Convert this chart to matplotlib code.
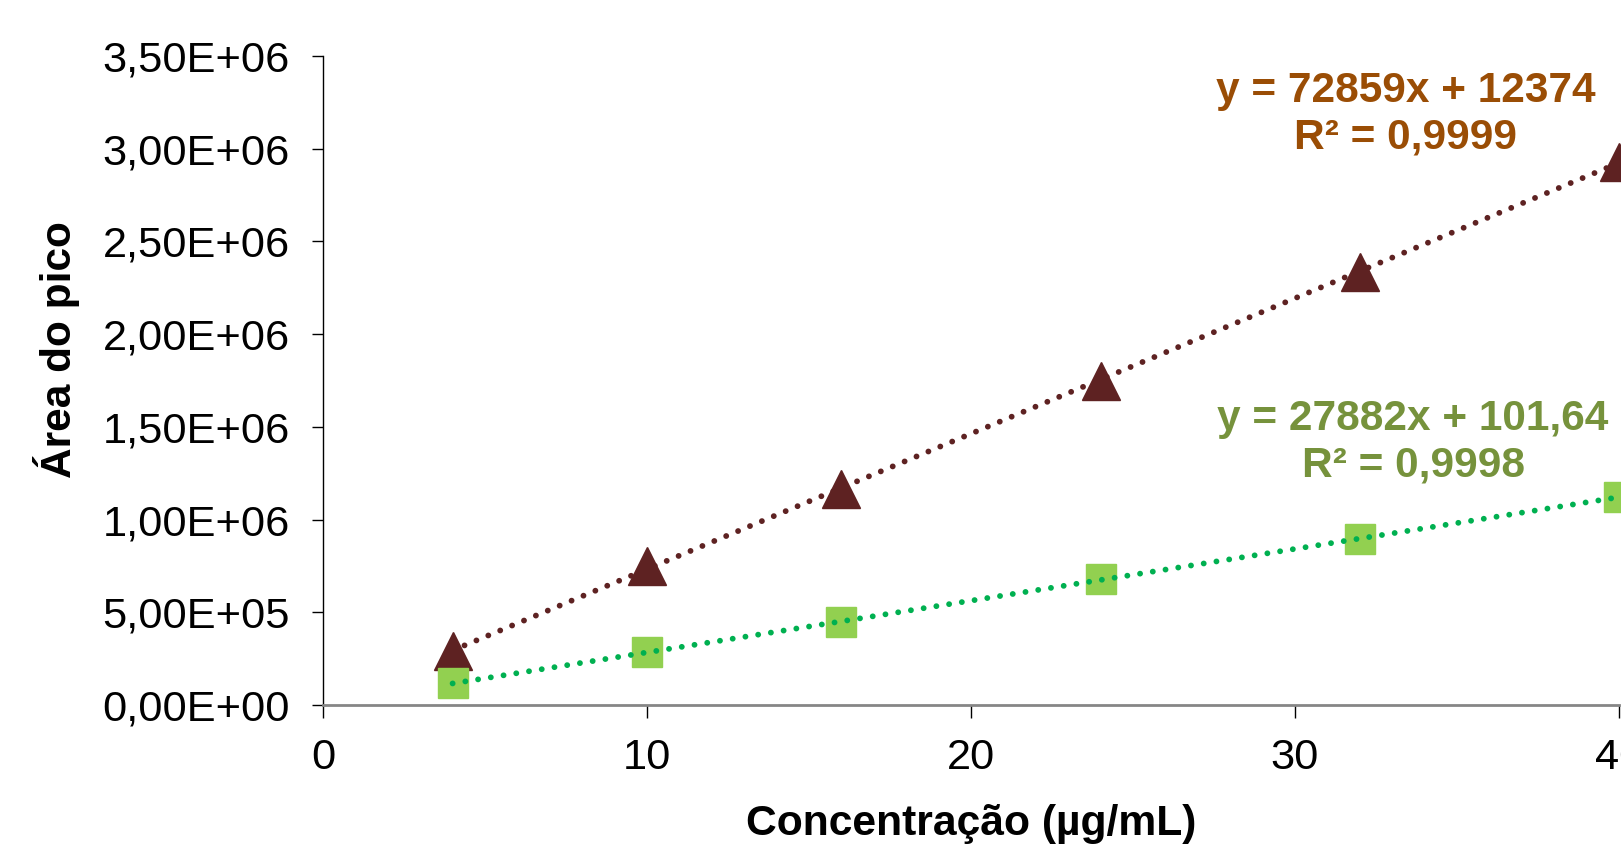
import numpy as np
import matplotlib
matplotlib.use("Agg")
import matplotlib.pyplot as plt
from matplotlib.ticker import FuncFormatter

plt.rcParams['font.family'] = ['Liberation Sans', 'DejaVu Sans']

# Data
conc = [4, 10, 16, 24, 32, 40]
area_tri = [0.29e6, 0.747e6, 1.165e6, 1.75e6, 2.335e6, 2.93e6]
area_sq = [0.117e6, 0.284e6, 0.446e6, 0.68e6, 0.897e6, 1.12e6]

eq_tri = "y = 72859x + 12374\nR² = 0,9999"
eq_sq = "y = 27882x + 101,64\nR² = 0,9998"

xlabel = "Concentração (µg/mL)"
ylabel = "Área do pico"

c_tri = "#5E2222"
c_sq = "#92D050"
c_tri_line = "#5E2222"
c_sq_line = "#00B050"
c_tri_txt = "#9A4D05"
c_sq_txt = "#76923C"

W, H = 1621, 849
fig = plt.figure(figsize=(W / 100, H / 100), dpi=100)
left, right, top, bottom = 323, 1619, 56, 705
ax = fig.add_axes([left / W, 1 - bottom / H, (right - left) / W, (bottom - top) / H])

x = np.array(conc, dtype=float)
for yvals, col in ((area_tri, c_tri_line), (area_sq, c_sq_line)):
    m, b = np.polyfit(x, np.array(yvals), 1)
    xs = np.array([x.min(), x.max()])
    ax.plot(xs, m * xs + b, color=col, lw=4.2, linestyle=(0, (0.01, 2.2)),
            dash_capstyle='round', zorder=3)

ax.plot(conc, area_tri, linestyle='none', marker='^', markersize=27,
        color=c_tri, markeredgecolor=c_tri, zorder=2)
ax.plot(conc, area_sq, linestyle='none', marker='s', markersize=21,
        color=c_sq, markeredgecolor=c_sq, zorder=2)

ax.set_xlim(0, 40)
ax.set_ylim(0, 3.5e6)
ax.set_xticks([0, 10, 20, 30, 40])
ax.set_yticks(np.arange(0, 3.51e6, 0.5e6))


def fmt(v, pos):
    if v == 0:
        return "0,00E+00"
    e = int(np.floor(np.log10(abs(v))))
    mant = v / 10 ** e
    return f"{mant:.2f}".replace('.', ',') + f"E+{e:02d}"


ax.yaxis.set_major_formatter(FuncFormatter(fmt))

for s in ('top', 'right'):
    ax.spines[s].set_visible(False)
ax.spines['left'].set_color('black')
ax.spines['left'].set_linewidth(1.0)
ax.spines['bottom'].set_color('#868686')
ax.spines['bottom'].set_linewidth(2.0)

ax.tick_params(axis='y', direction='out', length=8, width=1.0, color='black',
               labelsize=31.2, pad=16)
ax.tick_params(axis='x', direction='out', length=9, width=1.0, color='black',
               labelsize=31.2, pad=15)

ax.set_xlabel(xlabel, fontsize=30.7, fontweight='bold', va='center')
ax.xaxis.set_label_coords(0.5, (705 - 824) / 649)
ax.set_ylabel(ylabel, fontsize=30.5, fontweight='bold', va='center')
ax.yaxis.set_label_coords((57 - 323) / 1296, (705 - 350) / 649)

fig.text(1406 / W, 1 - 114 / H, eq_tri, ha='center', va='center', fontsize=30.5,
         fontweight='bold', color=c_tri_txt, linespacing=1.2)
fig.text(1413 / W, 1 - 442 / H, eq_sq, ha='center', va='center', fontsize=30.5,
         fontweight='bold', color=c_sq_txt, linespacing=1.2)

for ln in ax.lines:
    ln.set_clip_on(False)

fig.savefig("out.png", dpi=100)
